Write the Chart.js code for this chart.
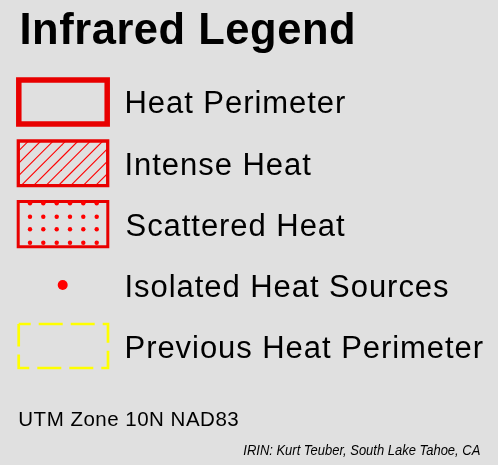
<!DOCTYPE html>
<html>
<head>
<meta charset="utf-8">
<script src="https://cdn.jsdelivr.net/npm/chart.js@4.4.1/dist/chart.umd.min.js"></script>
<style>
  html, body { margin: 0; padding: 0; background: #e0e0e0; }
  #wrap { position: relative; width: 498px; height: 465px; background: #e0e0e0; }
</style>
</head>
<body>
<div id="wrap"><canvas id="c"></canvas></div>
<script>
// ---- content ----
const titleText = 'Infrared Legend';
const legendLabels = ['Heat Perimeter', 'Intense Heat', 'Scattered Heat', 'Isolated Heat Sources', 'Previous Heat Perimeter'];
const projectionText = 'UTM Zone 10N NAD83';
const creditText = 'IRIN: Kurt Teuber, South Lake Tahoe, CA';

// ---- swatch geometry (in the 498 x 465 legend space) ----
const swatchLeft = [18.8, 18.3, 18.2, 0, 18.7];
const swatchRight = [107.2, 107.7, 107.8, 0, 108.0];
const swatchTop = [80.0, 141.0, 201.5, 0, 324.0];
const swatchBottom = [124.0, 185.7, 246.8, 0, 368.0];
const scatterDotX = [30, 43.3, 56.7, 70, 83.3, 96.7];
const scatterDotY = [203.3, 216.7, 229.3, 242.7];
const isolatedPoint = [{ x: 62.7, y: 285 }];
const labelBaselines = [113.3, 174.6, 235.8, 297.0, 358.3];

function rect(i) {
  const l = swatchLeft[i], r = swatchRight[i], t = swatchTop[i], b = swatchBottom[i];
  return [{x:l,y:t},{x:r,y:t},{x:r,y:b},{x:l,y:b},{x:l,y:t}];
}
const scatterDots = [];
scatterDotY.forEach(y => scatterDotX.forEach(x => scatterDots.push({x, y})));

// hatch pattern for "Intense Heat"
function hatchPattern() {
  const size = 62, step = 12.4, phase = 8.3;
  const cv = document.createElement('canvas');
  cv.width = size; cv.height = size;
  const g = cv.getContext('2d');
  g.strokeStyle = '#ff0000';
  g.lineWidth = 1.1;
  for (let k = -12; k <= 12; k++) {
    const c = phase + k * step;
    g.beginPath();
    g.moveTo(c - 2 * size, 2 * size);
    g.lineTo(c + 2 * size, -2 * size);
    g.stroke();
  }
  return document.createElement('canvas').getContext('2d').createPattern(cv, 'repeat');
}

const RED = '#e80000';
const BRIGHT = '#ff0000';
const YELLOW = '#ffff00';

const textPlugin = {
  id: 'legendText',
  afterDraw(chart) {
    const ctx = chart.ctx;
    const xs = chart.scales.x, ys = chart.scales.y;
    const FAM = '"Liberation Sans", Arial, sans-serif';
    // draws text with its ink starting at `left`, widened (letter spacing) or
    // condensed (horizontal scale) so that its ink ends at `right`
    function fit(text, font, left, right, base, spacingOverride, condense) {
      ctx.save();
      ctx.font = font;
      ctx.fillStyle = '#000';
      ctx.textBaseline = 'alphabetic';
      ctx.textAlign = 'left';
      ctx.letterSpacing = '0px';
      const m = ctx.measureText(text);
      const inkW = m.actualBoundingBoxLeft + m.actualBoundingBoxRight;
      const L = xs.getPixelForValue(left);
      const B = ys.getPixelForValue(base);
      if (condense) {
        const s = (xs.getPixelForValue(right) - L) / inkW;
        ctx.translate(L, B);
        ctx.scale(s, 1);
        ctx.fillText(text, m.actualBoundingBoxLeft, 0);
        ctx.restore();
        return 0;
      }
      let sp = spacingOverride;
      if (sp === undefined) sp = ((xs.getPixelForValue(right) - L) - inkW) / (text.length - 1);
      ctx.letterSpacing = sp.toFixed(3) + 'px';
      ctx.fillText(text, L + m.actualBoundingBoxLeft, B);
      ctx.restore();
      return sp;
    }
    fit(titleText, 'bold 43.5px ' + FAM, 21.5, 353, 43.5);
    const lf = '31px ' + FAM;
    const sp = fit(legendLabels[0], lf, 126.5, 345, labelBaselines[0]);
    for (let i = 1; i < legendLabels.length; i++) {
      fit(legendLabels[i], lf, 126.5, 0, labelBaselines[i], sp);
    }
    fit(projectionText, '20.5px ' + FAM, 19.3, 238.3, 426);
    fit(creditText, 'italic 14px ' + FAM, 243.3, 480, 455, undefined, true);
  }
};

const lineBase = { type: 'line', pointRadius: 0, pointHoverRadius: 0, tension: 0, clip: false,
  borderCapStyle: 'square', borderJoinStyle: 'miter', showLine: true };

new Chart(document.getElementById('c'), {
  type: 'scatter',
  data: {
    datasets: [
      { ...lineBase, label: legendLabels[0], data: rect(0), borderColor: RED, borderWidth: 5.5, fill: false },
      { ...lineBase, label: legendLabels[1], data: rect(1), borderColor: RED, borderWidth: 3.3, fill: 'shape', backgroundColor: hatchPattern() },
      { type: 'scatter', label: legendLabels[2] + ' dots', data: scatterDots, pointRadius: 2.2, pointBorderWidth: 0,
        backgroundColor: BRIGHT, borderColor: BRIGHT, clip: false },
      { ...lineBase, label: legendLabels[2], data: rect(2), borderColor: RED, borderWidth: 3, fill: false },
      { type: 'scatter', label: legendLabels[3], data: isolatedPoint, pointRadius: 5, pointBorderWidth: 0,
        backgroundColor: BRIGHT, borderColor: BRIGHT, clip: false },
      { ...lineBase, label: legendLabels[4], data: rect(4), borderColor: YELLOW, borderWidth: 2.7, fill: false,
        borderDash: [24, 8], borderDashOffset: 12, borderCapStyle: 'butt' }
    ]
  },
  options: {
    responsive: true,
    maintainAspectRatio: false,
    animation: false,
    events: [],
    layout: { padding: 0, autoPadding: false },
    plugins: { legend: { display: false }, title: { display: false }, tooltip: { enabled: false } },
    scales: {
      x: { type: 'linear', min: 0, max: 498, display: false },
      y: { type: 'linear', min: 0, max: 465, reverse: true, display: false }
    }
  },
  plugins: [textPlugin]
});
</script>
</body>
</html>
